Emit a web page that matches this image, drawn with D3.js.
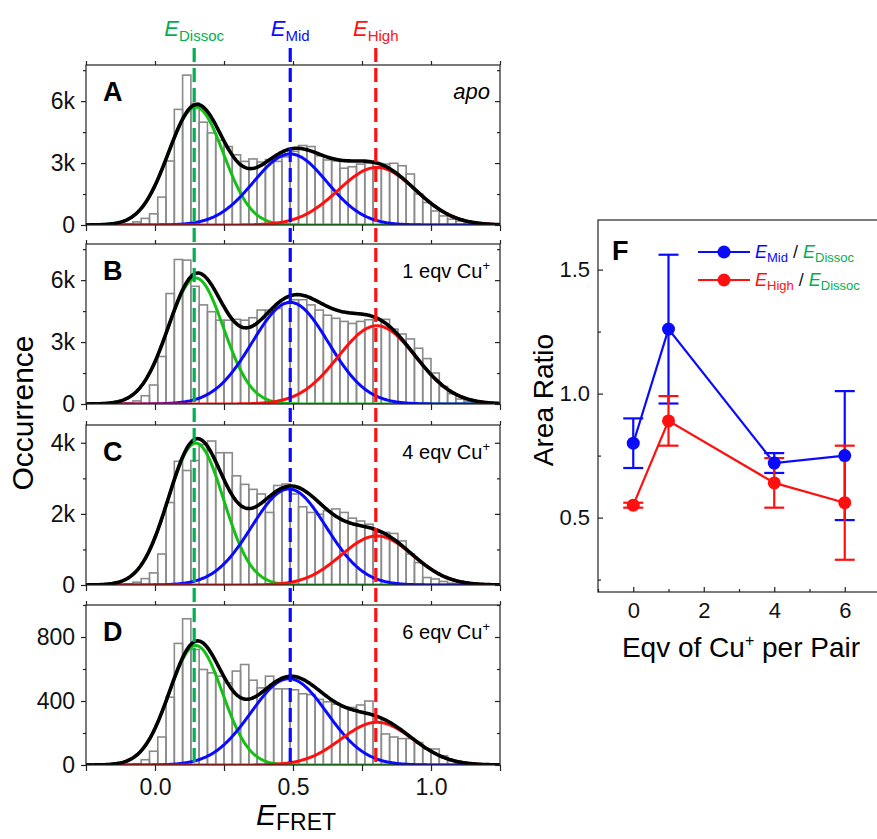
<!DOCTYPE html>
<html><head><meta charset="utf-8">
<script src="https://cdn.jsdelivr.net/npm/d3@7"></script>
<style>
body{margin:0;background:#fff}
text{font-family:"Liberation Sans",Arial,sans-serif}
</style>
</head><body>
<svg id="chart" width="877" height="839"></svg>
<script>
// ---------------- DATA ----------------
const binLeft = [-0.11,-0.08,-0.05,-0.02,0.01,0.04,0.07,0.10,0.13,0.16,0.19,0.22,0.25,0.28,0.31,0.34,0.37,0.40,0.43,0.46,0.49,0.52,0.55,0.58,0.61,0.64,0.67,0.70,0.73,0.76,0.79,0.82,0.85,0.88,0.91,0.94,0.97,1.00,1.03,1.06,1.09,1.12,1.15];
const binWidth = 0.03;
const countsA = [40,150,320,540,1350,3100,5600,7260,5900,4980,4460,4100,3800,3400,3080,3200,3050,3170,3080,3300,3570,3850,3800,3350,3150,3100,2750,2820,2950,2990,2950,2950,2990,2870,2470,1500,1090,680,440,280,190,110,60];
const countsB = [50,150,400,920,2300,5350,7000,6970,5700,4800,4470,4060,4060,4100,4060,4180,4550,4550,4630,4870,5050,5050,4800,4550,4300,4150,4000,3900,4000,4080,4080,4100,3630,3390,3150,2700,2200,1500,850,500,240,130,80];
const countsC = [30,80,180,340,870,2320,3480,3220,3500,3950,4050,3720,3720,3070,2830,2690,2560,2040,2800,2840,2560,2200,2040,1990,2090,2140,2040,1880,1800,1710,1480,1480,1450,1240,870,630,210,170,100,50,20,10,5];
const countsD = [3,8,33,86,175,424,760,914,722,597,576,555,514,587,628,530,482,555,476,476,470,445,440,410,395,380,360,360,375,400,298,194,175,165,165,140,100,100,58,27,12,6,3];

// Gaussian fit components [Dissoc, Mid, High]
const fitAmpA = [5710, 3440, 2790];
const fitAmpB = [6100, 4920, 3790];
const fitAmpC = [3990, 2700, 1380];
const fitAmpD = [747, 539, 267];
const fitCenA = [0.148, 0.490, 0.804];
const fitCenB = [0.148, 0.490, 0.804];
const fitCenC = [0.148, 0.485, 0.804];
const fitCenD = [0.148, 0.485, 0.804];
const fitSigA = [0.100, 0.133, 0.140];
const fitSigB = [0.100, 0.138, 0.140];
const fitSigC = [0.100, 0.135, 0.130];
const fitSigD = [0.096, 0.138, 0.130];

const peakLines = [0.142, 0.490, 0.800];
const panelLetters = ["A","B","C","D"];
const panelNotes = ["apo","1 eqv Cu","4 eqv Cu","6 eqv Cu"];
const yMaxes = [7750, 7750, 4500, 1000];
const yMajor = [[0,3000,6000],[0,3000,6000],[0,2000,4000],[0,400,800]];
const yMajorLabels = [["0","3k","6k"],["0","3k","6k"],["0","2k","4k"],["0","400","800"]];
const yMinor = [[1500,4500,7500],[1500,4500,7500],[1000,3000],[200,600,1000]];
const xMajor = [0.0, 0.5, 1.0];
const xMajorLabels = ["0.0","0.5","1.0"];
const xMinor = [-0.25, 0.25, 0.75, 1.25];

// Panel F
const eqv = [0, 1, 4, 6];
const midRatio = [0.80, 1.26, 0.72, 0.75];
const midErr = [0.10, 0.30, 0.04, 0.26];
const highRatio = [0.55, 0.89, 0.64, 0.56];
const highErr = [0.01, 0.10, 0.10, 0.23];
const fXTicks = [0, 2, 4, 6];
const fXMinor = [-1, 1, 3, 5];
const fYMajor = [0.5, 1.0, 1.5];
const fYMinor = [0.25, 0.75, 1.25];

// ---------------- DRAW ----------------
const svg = d3.select("#chart");
const COL = {green:"#14c014", greenD:"#00b050", blue:"#0a0aff", red:"#ff1010", bar:"#8a8a8a"};
const counts = [countsA, countsB, countsC, countsD];
const amps = [fitAmpA, fitAmpB, fitAmpC, fitAmpD];
const cens = [fitCenA, fitCenB, fitCenC, fitCenD];
const sigs = [fitSigA, fitSigB, fitSigC, fitSigD];
const compColors = [COL.green, COL.blue, COL.red];

const L = 86, R = 500;
const tops = [65, 244, 425, 605];
const H = 160;
const x = d3.scaleLinear().domain([-0.25, 1.25]).range([L, R]);
const grid = d3.range(-0.25, 1.2501, 0.004);
const gauss = (e, a, c, s) => a * Math.exp(-((e - c) ** 2) / (2 * s * s));

function styleAxis(a, fs) {
  a.selectAll(".domain").remove();
  a.selectAll("line").attr("stroke","#222").attr("stroke-width",1.2);
  a.selectAll("text").attr("font-size", fs).attr("fill","#111")
    .attr("font-family",'"Liberation Sans",Arial,sans-serif');
}

tops.forEach((top, p) => {
  const y = d3.scaleLinear().domain([0, yMaxes[p]]).range([top + H, top]);
  const g = svg.append("g");
  const clipId = "clip" + p;
  svg.append("clipPath").attr("id", clipId).append("rect").attr("x", L).attr("y", top).attr("width", R - L).attr("height", H);
  const inner = g.append("g").attr("clip-path", `url(#${clipId})`);

  // bars
  inner.selectAll("rect.bar").data(counts[p]).join("rect").attr("class","bar")
    .attr("x", (d,i) => x(binLeft[i]))
    .attr("width", (d,i) => x(binLeft[i] + binWidth) - x(binLeft[i]))
    .attr("y", d => y(d))
    .attr("height", d => y(0) - y(d))
    .attr("fill", "none").attr("stroke", COL.bar).attr("stroke-width", 1.6);

  // component curves
  const line = d3.line().x(d => x(d[0])).y(d => y(d[1]));
  [0,1,2].forEach(k => {
    inner.append("path")
      .attr("d", line(grid.map(e => [e, gauss(e, amps[p][k], cens[p][k], sigs[p][k])])))
      .attr("fill","none").attr("stroke", compColors[k]).attr("stroke-width", 3);
  });
  inner.append("path")
    .attr("d", line(grid.map(e => [e, d3.sum([0,1,2], k => gauss(e, amps[p][k], cens[p][k], sigs[p][k]))])))
    .attr("fill","none").attr("stroke","#000").attr("stroke-width", 3.6);

  // frame
  g.append("rect").attr("x", L).attr("y", top).attr("width", R - L).attr("height", H)
    .attr("fill","none").attr("stroke","#222").attr("stroke-width",1.2);

  // y axis
  const yAx = g.append("g").attr("transform", `translate(${L},0)`)
    .call(d3.axisLeft(y).tickValues(yMajor[p]).tickSize(5).tickPadding(6).tickFormat((d,i) => yMajorLabels[p][i]));
  yAx.append("g").call(d3.axisLeft(y).tickValues(yMinor[p].filter(v => v <= yMaxes[p])).tickSize(3).tickFormat(""));
  const yAxR = g.append("g").attr("transform", `translate(${R},0)`)
    .call(d3.axisLeft(y).tickValues(yMajor[p]).tickSize(5).tickFormat(""));
  yAxR.append("g").call(d3.axisLeft(y).tickValues(yMinor[p].filter(v => v <= yMaxes[p])).tickSize(3).tickFormat(""));

  // x axis bottom
  const xAx = g.append("g").attr("transform", `translate(0,${top + H})`)
    .call(d3.axisBottom(x).tickValues(xMajor).tickSize(6).tickPadding(8).tickFormat((d,i) => p === 3 ? xMajorLabels[i] : ""));
  xAx.append("g").call(d3.axisBottom(x).tickValues(xMinor).tickSize(6).tickFormat(""));
  const xAxT = g.append("g").attr("transform", `translate(0,${top})`)
    .call(d3.axisTop(x).tickValues(xMajor.concat(xMinor)).tickSize(4).tickFormat(""));

  [yAx, yAxR, xAx, xAxT].forEach(a => styleAxis(a, 23));

  // panel letter
  g.append("text").attr("x", L + 17).attr("y", top + 36).attr("font-size", 27).attr("font-weight","bold").text(panelLetters[p]);
  // note
  const note = g.append("text").attr("x", R - 10).attr("y", top + 34).attr("text-anchor","end").attr("font-size", 20);
  if (p === 0) {
    note.attr("font-style","italic").attr("font-size", 22).text(panelNotes[p]);
  } else {
    note.append("tspan").text(panelNotes[p]);
    note.append("tspan").attr("font-size", 13).attr("dy", -8).text("+");
  }
});

// dashed peak lines
const dashCols = [COL.greenD, COL.blue, COL.red];
peakLines.forEach((e, k) => {
  svg.append("line").attr("x1", x(e)).attr("x2", x(e)).attr("y1", 48).attr("y2", 766)
    .attr("stroke", dashCols[k]).attr("stroke-width", 3.2).attr("stroke-dasharray", "14,6");
});

// top labels
const topLabels = [["Dissoc", COL.greenD], ["Mid", COL.blue], ["High", COL.red]];
peakLines.forEach((e, k) => {
  const t = svg.append("text").attr("x", x(e)).attr("y", 36).attr("text-anchor","middle").attr("fill", topLabels[k][1]);
  t.append("tspan").attr("font-style","italic").attr("font-size", 22).text("E");
  t.append("tspan").attr("font-size", 15).attr("dy", 5).text(topLabels[k][0]);
});

// axis titles
svg.append("text").attr("transform","translate(33,413) rotate(-90)").attr("text-anchor","middle")
  .attr("font-size", 30).text("Occurrence");
const ef = svg.append("text").attr("x", 296).attr("y", 825).attr("text-anchor","middle");
ef.append("tspan").attr("font-style","italic").attr("font-size", 30).text("E");
ef.append("tspan").attr("font-size", 23).attr("dy", 5).text("FRET");

// ---------------- PANEL F ----------------
const fx = d3.scaleLinear().domain([-1, 7]).range([598, 880]);
const fy = d3.scaleLinear().domain([0.2, 1.7]).range([592, 220]);
const fg = svg.append("g");
fg.append("rect").attr("x", 598).attr("y", 220).attr("width", 282).attr("height", 372)
  .attr("fill","none").attr("stroke","#222").attr("stroke-width",1.2);
const fyAx = fg.append("g").attr("transform","translate(598,0)")
  .call(d3.axisRight(fy).tickValues(fYMajor).tickSize(5).tickFormat(""));
fyAx.append("g").call(d3.axisRight(fy).tickValues(fYMinor).tickSize(3).tickFormat(""));
const fyLab = fg.append("g").attr("transform","translate(598,0)")
  .call(d3.axisLeft(fy).tickValues(fYMajor).tickSize(0).tickPadding(8).tickFormat(d3.format(".1f")));
const fxAx = fg.append("g").attr("transform","translate(0,592)")
  .call(d3.axisTop(fx).tickValues(fXTicks).tickSize(5).tickFormat(""));
fxAx.append("g").call(d3.axisTop(fx).tickValues(fXMinor).tickSize(3).tickFormat(""));
const fxLab = fg.append("g").attr("transform","translate(0,592)")
  .call(d3.axisBottom(fx).tickValues(fXTicks).tickSize(0).tickPadding(10).tickFormat(d3.format("d")));
[fyAx, fyLab, fxAx, fxLab].forEach(a => styleAxis(a, 22));

function series(vals, errs, color) {
  const s = fg.append("g");
  s.selectAll("line.eb").data(vals).join("line")
    .attr("x1",(d,i)=>fx(eqv[i])).attr("x2",(d,i)=>fx(eqv[i]))
    .attr("y1",(d,i)=>fy(d-errs[i])).attr("y2",(d,i)=>fy(d+errs[i]))
    .attr("stroke",color).attr("stroke-width",2.2);
  [-1,1].forEach(sg => {
    s.selectAll(null).data(vals).join("line")
      .attr("x1",(d,i)=>fx(eqv[i])-10).attr("x2",(d,i)=>fx(eqv[i])+10)
      .attr("y1",(d,i)=>fy(d+sg*errs[i])).attr("y2",(d,i)=>fy(d+sg*errs[i]))
      .attr("stroke",color).attr("stroke-width",2.2);
  });
  s.append("path").attr("d", d3.line().x((d,i)=>fx(eqv[i])).y(d=>fy(d))(vals))
    .attr("fill","none").attr("stroke",color).attr("stroke-width",2.2);
  return s;
}
series(midRatio, midErr, COL.blue);
series(highRatio, highErr, COL.red);
fg.selectAll("circle.mid").data(midRatio).join("circle").attr("cx",(d,i)=>fx(eqv[i])).attr("cy",d=>fy(d)).attr("r",6.5).attr("fill",COL.blue);
fg.selectAll("circle.high").data(highRatio).join("circle").attr("cx",(d,i)=>fx(eqv[i])).attr("cy",d=>fy(d)).attr("r",6.5).attr("fill",COL.red);

// legend
const legRows = [["Mid", COL.blue, 252], ["High", COL.red, 280]];
legRows.forEach(([lab, col, yy]) => {
  fg.append("line").attr("x1",698).attr("x2",750).attr("y1",yy).attr("y2",yy).attr("stroke",col).attr("stroke-width",2.2);
  fg.append("circle").attr("cx",724).attr("cy",yy).attr("r",6.5).attr("fill",col);
  const t = fg.append("text").attr("x",755).attr("y",yy+6).attr("font-size",18);
  t.append("tspan").attr("fill",col).attr("font-style","italic").text("E");
  t.append("tspan").attr("fill",col).attr("font-size",13).attr("dy",4).text(lab);
  t.append("tspan").attr("fill","#111").attr("dy",-4).text(" / ");
  t.append("tspan").attr("fill",COL.greenD).attr("font-style","italic").text("E");
  t.append("tspan").attr("fill",COL.greenD).attr("font-size",13).attr("dy",4).text("Dissoc");
});

fg.append("text").attr("x",612).attr("y",260).attr("font-size",27).attr("font-weight","bold").text("F");
fg.append("text").attr("transform","translate(553,400) rotate(-90)").attr("text-anchor","middle")
  .attr("font-size",28).text("Area Ratio");
const ft = fg.append("text").attr("x",741).attr("y",657).attr("text-anchor","middle").attr("font-size",28);
ft.append("tspan").text("Eqv of Cu");
ft.append("tspan").attr("font-size",16).attr("dy",-11).text("+");
ft.append("tspan").attr("dy",11).text(" per Pair");
</script>
</body></html>
